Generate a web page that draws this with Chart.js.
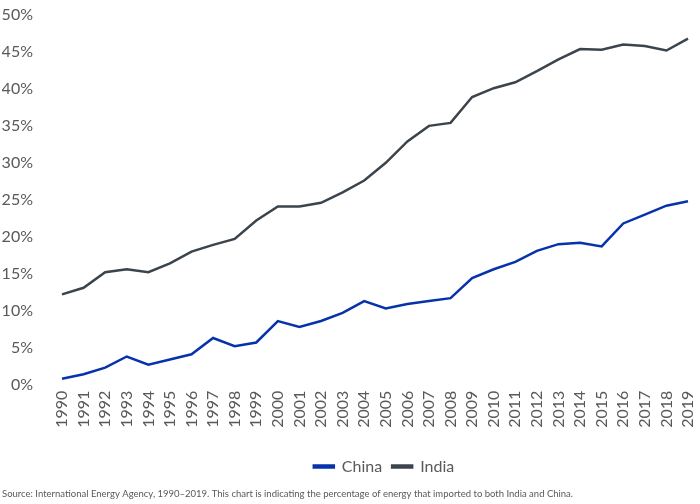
<!DOCTYPE html>
<html lang="en">
<head>
    <meta charset="UTF-8">
    <script src="https://cdn.jsdelivr.net/npm/chart.js"></script>
    <title>Energy imports - India and China</title>
    <style>
        html, body { margin: 0; padding: 0; background: #fff; }
        #wrap { width: 700px; height: 504px; }
    </style>
</head>
<body>
    <div id="wrap"><canvas id="grafica"></canvas></div>
    <script>
        // data
        const years = ['1990','1991','1992','1993','1994','1995','1996','1997','1998','1999',
            '2000','2001','2002','2003','2004','2005','2006','2007','2008','2009',
            '2010','2011','2012','2013','2014','2015','2016','2017','2018','2019'];
        const china = [0.8, 1.4, 2.3, 3.8, 2.7, 3.4, 4.1, 6.3, 5.2, 5.7,
            8.6, 7.8, 8.6, 9.7, 11.3, 10.3, 10.9, 11.3, 11.7, 14.4,
            15.6, 16.6, 18.1, 19.0, 19.2, 18.7, 21.8, 23.0, 24.2, 24.8];
        const india = [12.2, 13.1, 15.2, 15.6, 15.2, 16.4, 18.0, 18.9, 19.7, 22.2,
            24.1, 24.1, 24.6, 26.0, 27.6, 30.0, 32.9, 35.0, 35.4, 38.9,
            40.1, 40.9, 42.4, 44.0, 45.4, 45.3, 46.0, 45.8, 45.2, 46.8];
        const yTicks = [0, 5, 10, 15, 20, 25, 30, 35, 40, 45, 50];

        const gris = '#595959';

        // nudge the legend a little right of the plot centre, like the original
        const legendShift = {
            id: 'legendShift',
            afterLayout(chart) {
                if (chart.legend) {
                    chart.legend.left += 9;
                    chart.legend.right += 9;
                }
            }
        };

        const ctx = document.getElementById('grafica').getContext('2d');
        new Chart(ctx, {
            type: 'line',
            data: {
                labels: years,
                datasets: [{
                    label: 'China',
                    data: china,
                    borderColor: '#0633ab',
                    backgroundColor: '#0633ab',
                    borderWidth: 2.5,
                    pointRadius: 0,
                    tension: 0
                }, {
                    label: 'India',
                    data: india,
                    borderColor: '#3b444d',
                    backgroundColor: '#3b444d',
                    borderWidth: 2.5,
                    pointRadius: 0,
                    tension: 0
                }]
            },
            options: {
                responsive: true,
                maintainAspectRatio: false,
                animation: false,
                layout: { padding: { left: 2, right: 0, top: 0, bottom: 2 } },
                scales: {
                    x: {
                        grid: { display: false, drawTicks: false },
                        border: { display: false },
                        ticks: {
                            color: gris,
                            font: { family: 'Lato', size: 16 },
                            minRotation: 90,
                            maxRotation: 90,
                            autoSkip: false,
                            padding: 6
                        },
                        afterFit: (axis) => {
                            axis.height = 64;
                            axis.paddingLeft = 0;
                            axis.paddingRight = 12;
                        }
                    },
                    y: {
                        min: 0,
                        max: 50,
                        afterBuildTicks: (axis) => { axis.ticks = yTicks.map(v => ({ value: v })); },
                        grid: { display: false, drawTicks: false },
                        border: { display: false },
                        ticks: {
                            color: gris,
                            font: { family: 'Lato', size: 16 },
                            padding: 29,
                            callback: (v) => v + '%'
                        },
                        afterFit: (axis) => {
                            axis.width = 60;
                            axis.paddingTop = 15;
                            axis.paddingBottom = 0;
                        }
                    }
                },
                plugins: {
                    legend: {
                        position: 'bottom',
                        fullSize: false,
                        labels: {
                            color: gris,
                            font: { family: 'Lato', size: 16 },
                            boxWidth: 20,
                            boxHeight: 2,
                            padding: 10
                        }
                    },
                    subtitle: {
                        display: true,
                        position: 'bottom',
                        align: 'start',
                        text: 'Source: International Energy Agency, 1990\u20132019. This chart is indicating the percentage of energy that imported to both India and China.',
                        color: gris,
                        font: { family: 'Lato', size: 9.5 },
                        padding: { top: 4, bottom: 2 }
                    },
                    tooltip: { enabled: false }
                }
            },
            plugins: [legendShift]
        });
    </script>
</body>
</html>
